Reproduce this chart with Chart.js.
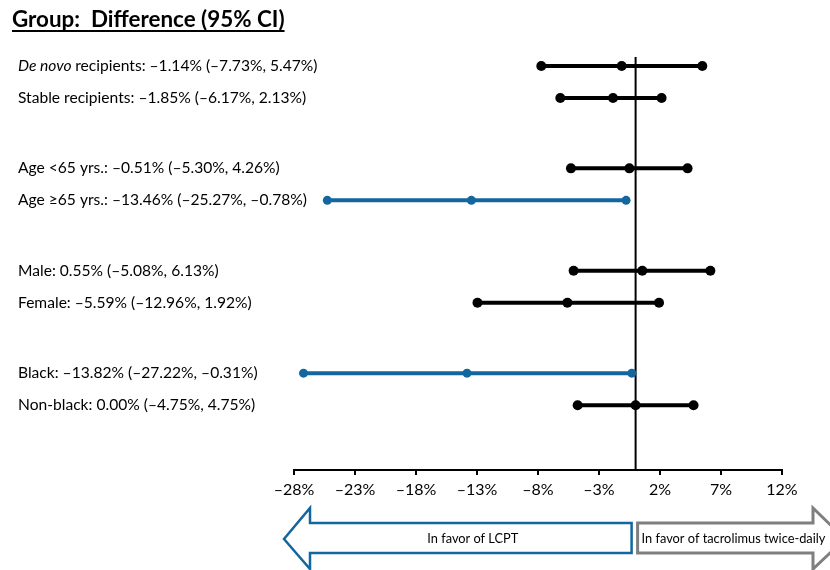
<!DOCTYPE html>
<html>
<head>
<meta charset="utf-8">
<script src="https://cdn.jsdelivr.net/npm/chart.js@4"></script>
<style>
  html, body { margin: 0; padding: 0; background: #fff; }
  #wrap { width: 830px; height: 570px; }
</style>
</head>
<body>
<div id="wrap"><canvas id="forest"></canvas></div>
<script>
// subgroup data, difference in % with 95% CI
const groupNames = ['De novo recipients', 'Stable recipients', 'Age <65 yrs.', 'Age \u226565 yrs.', 'Male', 'Female', 'Black', 'Non-black'];
const estimates = [-1.14, -1.85, -0.51, -13.46, 0.55, -5.59, -13.82, 0.00];
const lowerCI = [-7.73, -6.17, -5.30, -25.27, -5.08, -12.96, -27.22, -4.75];
const upperCI = [5.47, 2.13, 4.26, -0.78, 6.13, 1.92, -0.31, 4.75];
const groupIndex = [0, 0, 1, 1, 2, 2, 3, 3];
const tickValues = [-28, -23, -18, -13, -8, -3, 2, 7, 12];

const BLUE = '#14679e';
const GREY = '#7f7f7f';
const FONT = 'Lato, "Open Sans", sans-serif';

// row position: pairs of rows, bigger gap between groups
const rowY = groupIndex.map((g, i) => g * 3.2 + (i % 2));

const fmt = v => (v < 0 ? '\u2013' : '') + Math.abs(v).toFixed(2) + '%';

const datasets = estimates.map((est, i) => {
  const col = upperCI[i] < 0 ? BLUE : '#000';
  return {
    data: [
      { x: lowerCI[i], y: rowY[i] },
      { x: est, y: rowY[i] },
      { x: upperCI[i], y: rowY[i] }
    ],
    showLine: true,
    borderColor: col,
    backgroundColor: col,
    pointBackgroundColor: col,
    pointBorderWidth: 0,
    borderWidth: 4,
    pointRadius: upperCI[i] < 0 ? 4.5 : 5
  };
});

const decor = {
  id: 'decor',
  beforeDatasetsDraw(chart) {
    const ctx = chart.ctx, x = chart.scales.x, a = chart.chartArea;
    const x0 = x.getPixelForValue(0);
    ctx.save();
    ctx.strokeStyle = '#000';
    ctx.lineWidth = 2;
    ctx.beginPath();
    ctx.moveTo(x0, a.top);
    ctx.lineTo(x0, a.bottom);
    ctx.stroke();
    ctx.restore();
  },
  afterDraw(chart) {
    const ctx = chart.ctx, x = chart.scales.x, y = chart.scales.y;
    const x0 = x.getPixelForValue(0);
    ctx.save();

    // title
    ctx.fillStyle = '#000';
    ctx.font = 'bold 22.4px ' + FONT;
    ctx.textBaseline = 'alphabetic';
    ctx.textAlign = 'left';
    const title = 'Group:  Difference (95% CI)';
    ctx.fillText(title, 12, 27);
    const tw = ctx.measureText(title).width;
    ctx.fillRect(12, 30, tw, 2);

    // row labels
    const lf = '15.6px ' + FONT;
    ctx.font = lf;
    ctx.textBaseline = 'middle';
    groupNames.forEach((name, i) => {
      const py = y.getPixelForValue(rowY[i]);
      const rest = ': ' + fmt(estimates[i]) + ' (' + fmt(lowerCI[i]) + ', ' + fmt(upperCI[i]) + ')';
      let px = 18;
      if (name.startsWith('De novo')) {
        ctx.font = 'italic ' + lf;
        ctx.fillText('De novo', px, py);
        px += ctx.measureText('De novo ').width;
        ctx.font = lf;
        ctx.fillText(name.slice(8) + rest, px, py);
      } else {
        ctx.fillText(name + rest, px, py);
      }
    });

    // arrows at the bottom
    const top = 523, bot = 553, hTop = 508, hBot = 569, mid = 539;
    ctx.lineJoin = 'miter';
    ctx.lineWidth = 2.5;
    ctx.strokeStyle = BLUE;
    ctx.beginPath();
    ctx.moveTo(x0 - 4, top);
    ctx.lineTo(310, top);
    ctx.lineTo(310, hTop);
    ctx.lineTo(284, mid);
    ctx.lineTo(310, hBot);
    ctx.lineTo(310, bot);
    ctx.lineTo(x0 - 4, bot);
    ctx.closePath();
    ctx.stroke();

    ctx.strokeStyle = GREY;
    ctx.lineWidth = 3;
    ctx.beginPath();
    ctx.moveTo(x0 + 2, top);
    ctx.lineTo(813, top);
    ctx.lineTo(813, hTop);
    ctx.lineTo(845, mid);
    ctx.lineTo(813, hBot);
    ctx.lineTo(813, bot);
    ctx.lineTo(x0 + 2, bot);
    ctx.closePath();
    ctx.stroke();

    ctx.fillStyle = '#000';
    ctx.font = '12.8px ' + FONT;
    ctx.textAlign = 'center';
    ctx.fillText('In favor of LCPT', (310 + x0) / 2, mid);
    ctx.textAlign = 'left';
    ctx.fillText('In favor of tacrolimus twice-daily', x0 + 6, mid);
    ctx.restore();
  }
};

new Chart(document.getElementById('forest'), {
  type: 'scatter',
  data: { datasets },
  options: {
    responsive: true,
    maintainAspectRatio: false,
    animation: false,
    layout: { padding: { left: 294, right: 48, top: 57, bottom: 0 } },
    plugins: { legend: { display: false }, tooltip: { enabled: false } },
    scales: {
      x: {
        type: 'linear',
        min: -28,
        max: 12,
        afterBuildTicks: s => { s.ticks = tickValues.map(v => ({ value: v })); },
        afterFit: s => { s.height = 100; },
        grid: { drawOnChartArea: false, drawTicks: true, tickLength: 5, color: '#000', lineWidth: 2 },
        border: { display: true, color: '#000', width: 2 },
        ticks: {
          color: '#000',
          font: { family: FONT, size: 16 },
          padding: 5,
          maxRotation: 0,
          autoSkip: false,
          callback: v => (v < 0 ? '\u2013' : '') + Math.abs(v) + '%'
        }
      },
      y: {
        type: 'linear',
        display: false,
        reverse: true,
        min: -0.28,
        max: 12.625
      }
    }
  },
  plugins: [decor]
});
</script>
</body>
</html>
